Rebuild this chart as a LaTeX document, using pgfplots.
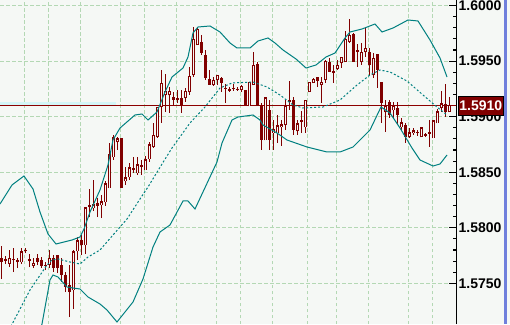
\documentclass[border=0pt]{standalone}
\usepackage{fontspec}
\setmainfont{Liberation Sans}
\usepackage{pgfplots}
\usepackage{pgfplotstable}
\pgfplotsset{compat=1.18}
\definecolor{darkred}{RGB}{128,0,0}
\definecolor{lineRed}{RGB}{140,0,0}
\definecolor{bandteal}{RGB}{0,128,128}
\definecolor{gridgreen}{RGB}{180,216,180}
\definecolor{bgcol}{RGB}{245,248,245}
\definecolor{hl}{RGB}{212,246,248}
\definecolor{sidebar}{RGB}{112,128,220}

\pgfplotstableread{
x H L O C
1 1.57836 1.57539 1.57728 1.57692
5 1.57746 1.57674 1.57719 1.57701
9 1.57800 1.57647 1.57683 1.57728
13 1.57818 1.57602 1.57719 1.57710
17 1.57728 1.57638 1.57710 1.57692
21 1.57818 1.57674 1.57692 1.57782
25 1.57818 1.57773 1.57800 1.57791
29 1.57764 1.57647 1.57719 1.57701
33 1.57728 1.57638 1.57665 1.57683
37 1.57764 1.57665 1.57728 1.57692
41 1.57737 1.57638 1.57710 1.57656
45 1.57692 1.57620 1.57665 1.57656
49 1.57800 1.57638 1.57674 1.57728
53 1.57755 1.57602 1.57728 1.57638
57 1.57755 1.57593 1.57755 1.57638
61 1.57728 1.57512 1.57665 1.57575
65 1.57602 1.57422 1.57575 1.57467
69 1.57665 1.57197 1.57485 1.57422
73 1.57800 1.57269 1.57440 1.57782
77 1.57917 1.57710 1.57791 1.57881
81 1.57935 1.57755 1.57890 1.57845
85 1.58178 1.57764 1.57845 1.58178
89 1.58349 1.58097 1.58205 1.58187
93 1.58430 1.58151 1.58178 1.58205
97 1.58268 1.58097 1.58223 1.58196
101 1.58295 1.58088 1.58205 1.58232
105 1.58421 1.58196 1.58232 1.58394
109 1.58763 1.58358 1.58358 1.58655
113 1.58835 1.58610 1.58637 1.58808
117 1.58817 1.58700 1.58772 1.58799
121 1.58808 1.58358 1.58808 1.58358
125 1.58547 1.58385 1.58421 1.58448
129 1.58583 1.58430 1.58457 1.58538
133 1.58637 1.58493 1.58538 1.58520
137 1.58637 1.58475 1.58493 1.58565
141 1.58610 1.58475 1.58565 1.58547
145 1.58646 1.58520 1.58520 1.58610
149 1.58772 1.58592 1.58619 1.58745
153 1.58943 1.58718 1.58727 1.58826
157 1.59087 1.58808 1.58817 1.59078
161 1.59420 1.58943 1.59087 1.59294
165 1.59384 1.59042 1.59195 1.59222
169 1.59267 1.59033 1.59195 1.59222
173 1.59222 1.59105 1.59177 1.59150
177 1.59240 1.59123 1.59168 1.59150
181 1.59240 1.59033 1.59168 1.59105
185 1.59258 1.59132 1.59168 1.59222
189 1.59447 1.59195 1.59222 1.59357
193 1.59807 1.59357 1.59375 1.59690
197 1.59798 1.59645 1.59645 1.59780
201 1.59735 1.59555 1.59672 1.59573
205 1.59600 1.59330 1.59555 1.59348
209 1.59420 1.59285 1.59339 1.59285
213 1.59357 1.59276 1.59285 1.59321
217 1.59375 1.59285 1.59330 1.59366
221 1.59357 1.59222 1.59348 1.59303
225 1.59294 1.59123 1.59258 1.59249
229 1.59267 1.59222 1.59249 1.59231
233 1.59294 1.59231 1.59258 1.59249
237 1.59267 1.59231 1.59249 1.59240
241 1.59285 1.59222 1.59240 1.59267
245 1.59240 1.59105 1.59240 1.59105
249 1.59312 1.59096 1.59096 1.59303
253 1.59582 1.59285 1.59285 1.59456
257 1.59492 1.59096 1.59474 1.59096
261 1.59123 1.58700 1.59096 1.58790
265 1.59168 1.58790 1.58790 1.59168
269 1.59150 1.58700 1.59060 1.58790
273 1.58970 1.58700 1.58853 1.58880
277 1.59015 1.58763 1.58853 1.58916
281 1.58970 1.58736 1.58907 1.58925
285 1.59150 1.58880 1.58925 1.59087
289 1.59321 1.59060 1.59150 1.59132
293 1.59177 1.58835 1.59150 1.58880
297 1.58970 1.58835 1.58871 1.58934
301 1.59051 1.58853 1.58970 1.58952
305 1.59141 1.58853 1.58907 1.59141
309 1.59303 1.59222 1.59222 1.59303
313 1.59348 1.59303 1.59303 1.59330
317 1.59357 1.59267 1.59357 1.59321
321 1.59357 1.59123 1.59285 1.59303
325 1.59510 1.59303 1.59330 1.59492
329 1.59528 1.59402 1.59492 1.59402
333 1.59465 1.59303 1.59411 1.59393
337 1.59510 1.59420 1.59429 1.59456
341 1.59537 1.59438 1.59483 1.59528
345 1.59771 1.59492 1.59492 1.59690
349 1.59879 1.59663 1.59672 1.59726
353 1.59753 1.59492 1.59744 1.59492
357 1.59654 1.59447 1.59600 1.59582
361 1.59663 1.59465 1.59492 1.59573
365 1.59807 1.59537 1.59582 1.59609
369 1.59618 1.59375 1.59582 1.59465
373 1.59573 1.59348 1.59375 1.59519
377 1.59564 1.59258 1.59564 1.59420
381 1.59312 1.58943 1.59312 1.59123
385 1.59150 1.58862 1.59042 1.59087
389 1.59150 1.58988 1.59132 1.59015
393 1.59132 1.58988 1.59060 1.59087
397 1.59132 1.58925 1.59078 1.59015
401 1.58988 1.58880 1.58907 1.58943
405 1.58943 1.58763 1.58925 1.58817
409 1.58898 1.58808 1.58817 1.58853
413 1.58898 1.58835 1.58853 1.58871
417 1.58880 1.58826 1.58862 1.58853
421 1.58907 1.58817 1.58817 1.58898
425 1.58853 1.58817 1.58844 1.58826
429 1.58970 1.58727 1.58862 1.58844
433 1.58970 1.58808 1.58808 1.58961
437 1.59069 1.58943 1.58943 1.59042
441 1.59231 1.59042 1.59078 1.59114
445 1.59294 1.58997 1.59114 1.59042
449 1.59177 1.59042 1.59042 1.59100
}\candles

\begin{document}
\begin{tikzpicture}[x=1pt,y=1pt]
\path[use as bounding box, fill=bgcol] (0,0) rectangle (510,324);
\fill[sidebar] (504.3,0) rectangle (507.3,324);
\begin{axis}[
  at={(0,0)}, anchor=south west,
  scale only axis, width=456.5pt, height=324pt,
  xmin=0, xmax=456.5, ymin=1.57134, ymax=1.6005,
  axis line style={draw=none},
  xtick={24.3,48.3,80.3,120.3,144.3,176.3,216.3,240.3,272.3,307.5,336,368.3,408.3,432.5},
  xticklabels={},
  xtick style={draw=none},
  ytick={1.575,1.58,1.585,1.59,1.595,1.6},
  minor y tick num=4,
  ytick pos=right, yticklabel pos=right,
  tick align=inside,
  major tick length=8pt, minor tick length=4pt,
  ytick style={black, line width=1.2pt},
  grid=major,
  major grid style={gridgreen, line width=1pt, dash pattern=on 3.5pt off 2.5pt},
  yticklabel style={font=\fontsize{14}{14}\selectfont\bfseries, anchor=west, inner sep=0pt, xshift=2pt},
  /pgf/number format/fixed,
  /pgf/number format/fixed zerofill,
  /pgf/number format/precision=4,
  /pgf/number format/assume math mode=true,
  candle/.style={draw=none, mark=none,
    error bars/.cd, y dir=plus, y explicit, error mark=none},
]
% highlight strip and current price line
\addplot[fill=hl, draw=none] coordinates {(0,1.59101) (115.7,1.59101) (115.7,1.59135) (0,1.59135)} -- cycle;
\addplot[lineRed, line width=1pt] coordinates {(0,1.59101) (456.5,1.59101)};
% wicks
\addplot[candle, error bar style={draw=darkred, line width=1pt}]
  table[x=x, y=L, y error plus expr={\thisrow{H}-\thisrow{L}}] {\candles};
% filled (down) bodies
\addplot[candle, error bar style={draw=darkred, line width=3pt}]
  table[x=x, y=C, y error plus expr={(\thisrow{O}>\thisrow{C})*(\thisrow{O}-\thisrow{C})}] {\candles};
% hollow (up) bodies: outline
\addplot[candle, error bar style={draw=darkred, line width=3pt}]
  table[x=x, y expr={\thisrow{O}-0.000045}, y error plus expr={(\thisrow{C}>\thisrow{O})*(\thisrow{C}-\thisrow{O}+0.00009)}] {\candles};
% hollow (up) bodies: interior
\addplot[candle, error bar style={draw=bgcol, line width=1pt}]
  table[x=x, y expr={\thisrow{O}+0.000045}, y error plus expr={(\thisrow{C}>\thisrow{O})*max(\thisrow{C}-\thisrow{O}-0.00009,0)}] {\candles};
% Bollinger bands
\addplot[bandteal, line width=1pt] coordinates {
(0,1.58214) (12,1.58385) (24,1.58466) (33,1.58349) (40,1.58142) (48,1.57944)
(56,1.57854) (64,1.57872) (72,1.57890) (80,1.57917) (84,1.57989) (90,1.58142)
(100,1.58340) (108,1.58565) (113,1.58790) (120,1.58898) (135,1.59015) (142,1.59024)
(148,1.58970) (157,1.59042) (165,1.59222) (172,1.59357) (183,1.59438) (188,1.59537)
(193,1.59753) (198,1.59807) (210,1.59816) (220,1.59762) (230,1.59663) (237,1.59618)
(250,1.59618) (258,1.59681) (268,1.59708) (275,1.59663) (283,1.59600) (296,1.59519)
(306,1.59438) (316,1.59465) (326,1.59537) (335,1.59573) (345,1.59708) (350,1.59762)
(362,1.59789) (375,1.59834) (382,1.59762) (393,1.59798) (408,1.59870) (418,1.59861)
(430,1.59690) (440,1.59528) (447,1.59357)};
\addplot[bandteal, line width=1pt, dash pattern=on 2pt off 2pt] coordinates {
(9,1.57080) (30,1.57440) (47,1.57665) (52,1.57710) (58,1.57719) (70,1.57692)
(80,1.57674) (88,1.57737) (100,1.57800) (113,1.57935) (127,1.58079) (140,1.58259)
(148,1.58367) (162,1.58574) (172,1.58718) (190,1.58943) (205,1.59087) (220,1.59258)
(232,1.59303) (253,1.59312) (267,1.59267) (280,1.59195) (293,1.59105) (303,1.59078)
(323,1.59087) (340,1.59150) (357,1.59285) (370,1.59375) (380,1.59420) (390,1.59402)
(407,1.59321) (423,1.59195) (437,1.59087) (447,1.59015)};
\addplot[bandteal, line width=1pt] coordinates {
(38,1.57035) (42,1.57134) (50,1.57530) (53,1.57575) (58,1.57557) (67,1.57467)
(73,1.57458) (80,1.57449) (88,1.57377) (100,1.57314) (107,1.57260) (117,1.57152)
(133,1.57332) (143,1.57539) (153,1.57827) (160,1.57962) (170,1.58025) (183,1.58241)
(188,1.58241) (195,1.58169) (217,1.58592) (222,1.58763) (232,1.58970) (238,1.58997)
(253,1.59015) (260,1.58970) (263,1.58925) (277,1.58853) (287,1.58790) (307,1.58727)
(327,1.58682) (340,1.58682) (353,1.58727) (370,1.58880) (381,1.59087) (390,1.59033)
(400,1.58898) (412,1.58718) (420,1.58610) (433,1.58556) (440,1.58574) (447,1.58655)};
\end{axis}
\draw[black, line width=1.3pt] (456.5,0) -- (456.5,324);
\node[fill=darkred, draw=black, line width=0.5pt, text=white,
  font=\fontsize{14}{14}\selectfont\bfseries, inner sep=0pt,
  minimum width=45.6pt, minimum height=19pt, anchor=west] at (457.7,218.2) {1.5910};
\end{tikzpicture}
\end{document}
